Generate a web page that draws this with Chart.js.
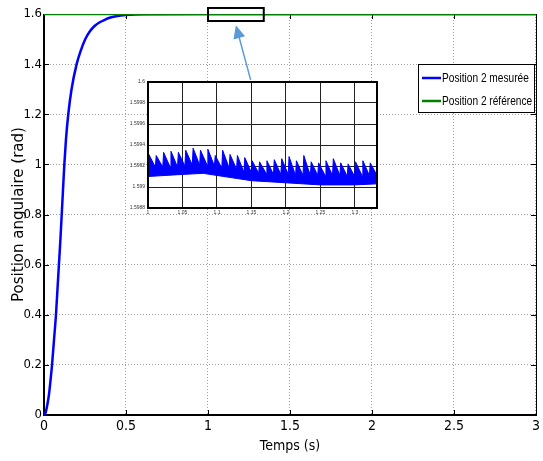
<!DOCTYPE html>
<html>
<head>
<meta charset="utf-8">
<script src="https://cdn.jsdelivr.net/npm/chart.js@4.4.1/dist/chart.umd.min.js"></script>
<style>
  html, body { margin: 0; padding: 0; background: #fff; }
  #wrap { position: relative; width: 543px; height: 461px; }
  #main { position: absolute; left: 0; top: 0; }
  #inset { position: absolute; left: 120px; top: 76px; }
</style>
</head>
<body>
<div id="wrap">
  <canvas id="main" width="543" height="461"></canvas>
  <canvas id="inset" width="262" height="145"></canvas>
</div>
<script>
// Step response (time in s, angle in rad)
const timeS = [0, 0.01, 0.02, 0.03, 0.04, 0.049, 0.061, 0.073, 0.082, 0.091, 0.1, 0.108, 0.116, 0.124,
  0.134, 0.148, 0.168, 0.199, 0.222, 0.252, 0.28, 0.31, 0.34, 0.37, 0.40, 0.44, 0.5, 0.6, 1.0, 2.0, 3.0];
const measured = [0, 0.01, 0.04, 0.08, 0.14, 0.2, 0.3, 0.4, 0.5, 0.6, 0.7, 0.8, 0.9, 1.0,
  1.1, 1.2, 1.3, 1.4, 1.45, 1.5, 1.531, 1.553, 1.567, 1.577, 1.585, 1.591, 1.596, 1.599, 1.6, 1.6, 1.6];
const refTime = [0, 3];
const reference = [1.6, 1.6];
const seriesLabels = ['Position 2 mesurée', 'Position 2 référence'];

const xTicks = [0, 0.5, 1, 1.5, 2, 2.5, 3];
const xTickLabels = ['0', '0.5', '1', '1.5', '2', '2.5', '3'];
const yTicks = [0, 0.2, 0.4, 0.6, 0.8, 1, 1.2, 1.4, 1.6];
const yTickLabels = ['0', '0.2', '0.4', '0.6', '0.8', '1', '1.2', '1.4', '1.6'];

// Zoomed window 1 s .. 1.332 s: sawtooth top edge (trough, peak pairs) and lower edge of the band
const insetX = [1.0000, 1.0012, 1.0107, 1.0119, 1.0214, 1.0226, 1.0321, 1.0333, 1.0428, 1.0440,
  1.0535, 1.0547, 1.0642, 1.0654, 1.0749, 1.0761, 1.0856, 1.0868, 1.0963, 1.0975,
  1.1070, 1.1082, 1.1177, 1.1189, 1.1284, 1.1296, 1.1391, 1.1403, 1.1498, 1.1510,
  1.1605, 1.1617, 1.1712, 1.1724, 1.1819, 1.1831, 1.1926, 1.1938, 1.2033, 1.2045,
  1.2140, 1.2152, 1.2247, 1.2259, 1.2354, 1.2366, 1.2461, 1.2473, 1.2568, 1.2580,
  1.2675, 1.2687, 1.2782, 1.2794, 1.2889, 1.2901, 1.2996, 1.3008, 1.3103, 1.3115,
  1.3210, 1.3222, 1.3320];
const insetY = [1.59919, 1.59931, 1.59919, 1.59930, 1.59919, 1.59933, 1.59919, 1.59934, 1.59919, 1.59933,
  1.59920, 1.59935, 1.59921, 1.59937, 1.59921, 1.59935, 1.59921, 1.59936, 1.59920, 1.59930,
  1.59918, 1.59935, 1.59918, 1.59931, 1.59917, 1.59930, 1.59914, 1.59928, 1.59914, 1.59925,
  1.59913, 1.59924, 1.59913, 1.59925, 1.59912, 1.59926, 1.59912, 1.59927, 1.59912, 1.59929,
  1.59911, 1.59925, 1.59911, 1.59930, 1.59911, 1.59924, 1.59911, 1.59923, 1.59911, 1.59925,
  1.59911, 1.59927, 1.59911, 1.59923, 1.59910, 1.59922, 1.59910, 1.59924, 1.59911, 1.59925,
  1.59911, 1.59923, 1.59911];
const lowerX = [1.0, 1.05, 1.08, 1.11, 1.15, 1.2, 1.25, 1.3, 1.332];
const lowerY = [1.59910, 1.59912, 1.59913, 1.59910, 1.59906, 1.59904, 1.59902, 1.59902, 1.59903];

const insetXTicks = [1, 1.05, 1.1, 1.15, 1.2, 1.25, 1.3];
const insetXLabels = ['1', '1.05', '1.1', '1.15', '1.2', '1.25', '1.3'];
const insetYTicks = [1.5988, 1.599, 1.5992, 1.5994, 1.5996, 1.5998, 1.6];
const insetYLabels = ['1.5988', '1.599', '1.5992', '1.5994', '1.5996', '1.5998', '1.6'];

const NARROW = "'DejaVu Sans Condensed', 'Liberation Sans', sans-serif";
const WIDE = "'DejaVu Sans', 'Liberation Sans', sans-serif";

const pts = (xs, ys) => xs.map((x, i) => ({ x, y: ys[i] }));

// MATLAB-like box with inward tick marks; drawn under the curves so the green line covers the top edge
const framePlugin = {
  id: 'frame',
  beforeDatasetsDraw(chart) {
    const { ctx, chartArea: a, scales } = chart;
    ctx.save();
    ctx.strokeStyle = '#000';
    ctx.lineWidth = 1;
    ctx.beginPath();
    scales.x.ticks.forEach((t) => {
      const px = Math.round(scales.x.getPixelForValue(t.value)) + 0.5;
      ctx.moveTo(px, a.bottom); ctx.lineTo(px, a.bottom - 5);
      ctx.moveTo(px, a.top); ctx.lineTo(px, a.top + 5);
    });
    scales.y.ticks.forEach((t) => {
      const py = Math.round(scales.y.getPixelForValue(t.value)) + 0.5;
      ctx.moveTo(a.left, py); ctx.lineTo(a.left + 5, py);
      ctx.moveTo(a.right, py); ctx.lineTo(a.right - 5, py);
    });
    ctx.moveTo(a.left, a.top + 0.5); ctx.lineTo(a.right, a.top + 0.5);
    ctx.moveTo(a.right + 0.5, a.top); ctx.lineTo(a.right + 0.5, a.bottom);
    ctx.stroke();
    ctx.lineWidth = 2;
    ctx.beginPath();
    ctx.moveTo(a.left, a.top); ctx.lineTo(a.left, a.bottom); ctx.lineTo(a.right + 1, a.bottom);
    ctx.stroke();
    ctx.restore();
  },
};

// zoom box, arrow to the inset and the legend
const annotPlugin = {
  id: 'annot',
  afterDraw(chart) {
    const { ctx, scales: { x, y } } = chart;
    ctx.save();
    // box around the zoomed window
    const bx0 = x.getPixelForValue(1.0), bx1 = x.getPixelForValue(1.34);
    const by0 = y.getPixelForValue(1.624), by1 = y.getPixelForValue(1.572);
    ctx.strokeStyle = '#000';
    ctx.lineWidth = 2;
    ctx.strokeRect(bx0, by0, bx1 - bx0, by1 - by0);

    // arrow from the inset up to the box
    const ax0 = x.getPixelForValue(1.26), ay0 = y.getPixelForValue(1.337);
    const ax1 = x.getPixelForValue(1.17), ay1 = y.getPixelForValue(1.555);
    const ang = Math.atan2(ay1 - ay0, ax1 - ax0);
    const head = 13;
    ctx.strokeStyle = '#5b9bd5';
    ctx.fillStyle = '#5b9bd5';
    ctx.lineWidth = 1.5;
    ctx.beginPath();
    ctx.moveTo(ax0, ay0);
    ctx.lineTo(ax1 - Math.cos(ang) * head * 0.8, ay1 - Math.sin(ang) * head * 0.8);
    ctx.stroke();
    ctx.beginPath();
    ctx.moveTo(ax1, ay1);
    ctx.lineTo(ax1 - head * Math.cos(ang) + 6 * Math.sin(ang), ay1 - head * Math.sin(ang) - 6 * Math.cos(ang));
    ctx.lineTo(ax1 - head * Math.cos(ang) - 6 * Math.sin(ang), ay1 - head * Math.sin(ang) + 6 * Math.cos(ang));
    ctx.closePath();
    ctx.fill();

    // legend (text squeezed horizontally like the narrow MATLAB font)
    const lx = 418, ly = 64, lw = 116, lh = 48;
    ctx.fillStyle = '#fff';
    ctx.fillRect(lx, ly, lw, lh);
    ctx.strokeStyle = '#000';
    ctx.lineWidth = 1;
    ctx.strokeRect(lx + 0.5, ly + 0.5, lw, lh);
    chart.data.datasets.forEach((ds, i) => {
      const cy = ly + 14 + i * 23;
      ctx.strokeStyle = ds.borderColor;
      ctx.lineWidth = 2.5;
      ctx.beginPath();
      ctx.moveTo(lx + 4, cy); ctx.lineTo(lx + 23, cy);
      ctx.stroke();
      ctx.save();
      ctx.translate(lx + 24, cy);
      ctx.scale(0.78, 1);
      ctx.font = "13px 'Liberation Sans', Arial, sans-serif";
      ctx.textBaseline = 'middle';
      ctx.fillStyle = '#000';
      ctx.fillText(ds.label, 0, 0);
      ctx.restore();
    });
    ctx.restore();
  },
};

new Chart(document.getElementById('main'), {
  type: 'line',
  data: {
    datasets: [
      {
        label: seriesLabels[0],
        data: pts(timeS, measured),
        borderColor: '#0000ff',
        borderWidth: 2.5,
        pointRadius: 0,
        cubicInterpolationMode: 'monotone',
        order: 1,
      },
      {
        label: seriesLabels[1],
        data: pts(refTime, reference),
        borderColor: '#008000',
        borderWidth: 2.5,
        pointRadius: 0,
        order: 0,
      },
    ],
  },
  options: {
    responsive: false,
    animation: false,
    events: [],
    layout: { padding: { top: 14, right: 7, left: 0, bottom: 0 } },
    plugins: { legend: { display: false }, tooltip: { enabled: false } },
    scales: {
      x: {
        type: 'linear',
        min: 0,
        max: 3,
        afterBuildTicks: (s) => { s.ticks = xTicks.map((v) => ({ value: v })); },
        afterFit: (s) => { s.height = 46; },
        ticks: {
          callback: (v, i) => xTickLabels[i],
          font: { family: NARROW, size: 14 },
          color: '#000',
          padding: 3,
          maxRotation: 0,
          autoSkip: false,
        },
        grid: { color: '#a0a0a0', lineWidth: 1, drawTicks: false },
        border: { display: false, dash: [1, 2] },
        title: {
          display: true,
          text: 'Temps (s)',
          font: { family: NARROW, size: 14 },
          color: '#000',
          padding: { top: 0, bottom: 6 },
        },
      },
      y: {
        type: 'linear',
        min: 0,
        max: 1.6,
        afterBuildTicks: (s) => { s.ticks = yTicks.map((v) => ({ value: v })); },
        afterFit: (s) => { s.width = 44; },
        ticks: {
          callback: (v, i) => yTickLabels[i],
          font: { family: NARROW, size: 13 },
          color: '#000',
          padding: 2,
          autoSkip: false,
        },
        grid: { color: '#a0a0a0', lineWidth: 1, drawTicks: false },
        border: { display: false, dash: [1, 2] },
        title: {
          display: true,
          text: 'Position angulaire (rad)',
          font: { family: WIDE, size: 15 },
          color: '#000',
          padding: { top: 10, bottom: 0 },
        },
      },
    },
  },
  plugins: [framePlugin, annotPlugin],
});

// white plot area and black box for the zoom inset
const insetFrame = {
  id: 'insetFrame',
  beforeDraw(chart) {
    const { ctx, chartArea: a } = chart;
    ctx.save();
    ctx.fillStyle = '#fff';
    ctx.fillRect(a.left, a.top, a.right - a.left, a.bottom - a.top);
    ctx.restore();
  },
  afterDraw(chart) {
    const { ctx, chartArea: a } = chart;
    ctx.save();
    ctx.strokeStyle = '#000';
    ctx.lineWidth = 2;
    ctx.strokeRect(a.left, a.top, a.right - a.left, a.bottom - a.top);
    ctx.restore();
  },
};

new Chart(document.getElementById('inset'), {
  type: 'line',
  data: {
    datasets: [
      {
        data: pts(insetX, insetY),
        borderColor: '#0000ff',
        backgroundColor: '#0000ff',
        borderWidth: 1,
        pointRadius: 0,
        fill: '+1',
      },
      {
        data: pts(lowerX, lowerY),
        borderColor: '#0000ff',
        borderWidth: 1,
        pointRadius: 0,
        fill: false,
      },
    ],
  },
  options: {
    responsive: false,
    animation: false,
    events: [],
    layout: { padding: { top: 6, right: 5, left: 0, bottom: 0 } },
    plugins: { legend: { display: false }, tooltip: { enabled: false } },
    scales: {
      x: {
        type: 'linear',
        min: 1,
        max: 1.332,
        afterBuildTicks: (s) => { s.ticks = insetXTicks.map((v) => ({ value: v })); },
        afterFit: (s) => { s.height = 13; },
        ticks: {
          callback: (v, i) => insetXLabels[i],
          font: { family: 'Liberation Sans', size: 5 },
          color: '#333',
          padding: 2,
          maxRotation: 0,
          autoSkip: false,
        },
        grid: { color: '#222', lineWidth: 1, drawTicks: false },
        border: { display: false },
      },
      y: {
        type: 'linear',
        min: 1.5988,
        max: 1.6,
        afterBuildTicks: (s) => { s.ticks = insetYTicks.map((v) => ({ value: v })); },
        afterFit: (s) => { s.width = 28; },
        ticks: {
          callback: (v, i) => insetYLabels[i],
          font: { family: 'Liberation Sans', size: 5 },
          color: '#333',
          padding: 3,
          autoSkip: false,
        },
        grid: { color: '#222', lineWidth: 1, drawTicks: false },
        border: { display: false },
      },
    },
  },
  plugins: [insetFrame],
});
</script>
</body>
</html>
